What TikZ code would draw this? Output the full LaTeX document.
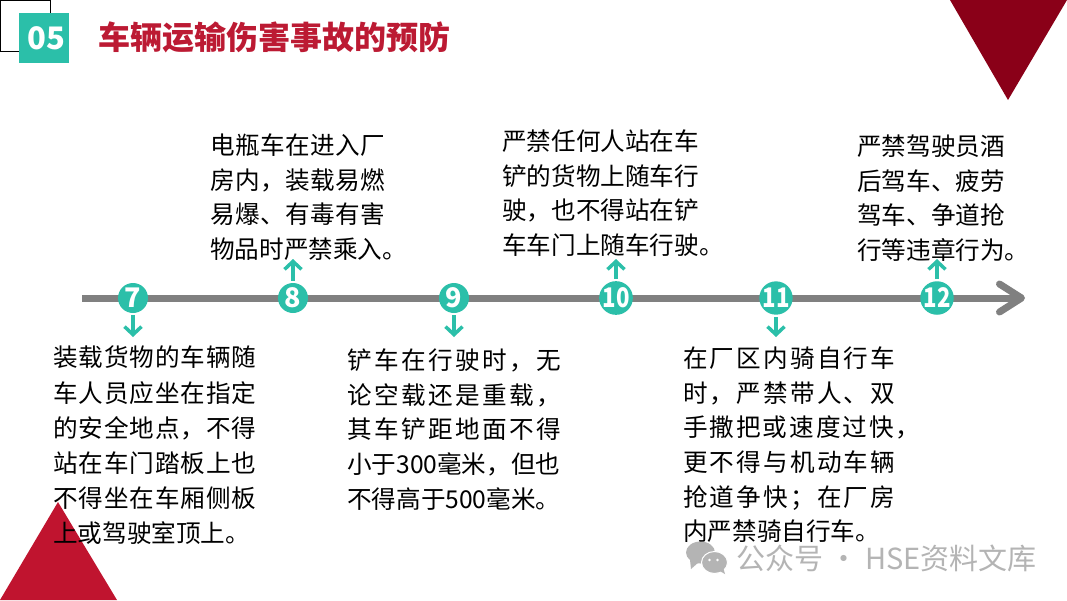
\documentclass[tikz,border=0pt]{standalone}
\usepackage{fontspec}
\setmainfont{Noto Sans CJK SC}
\newfontfamily\digitfont[FakeStretch=0.82]{Noto Sans CJK SC}
\usetikzlibrary{arrows.meta}
\definecolor{tealmark}{HTML}{2BBFA9}
\definecolor{axisgray}{HTML}{808080}
\definecolor{titlered}{HTML}{BC1A33}
\definecolor{lowred}{HTML}{C0142F}
\definecolor{darkred}{HTML}{8A0018}
\definecolor{markgray}{HTML}{B4B4B4}
\newcommand{\spread}[2]{{\addfontfeature{LetterSpace=#1}#2}}
\tikzset{
	mark dot/.style = {circle, fill = tealmark, inner sep = 0pt, minimum size = 30pt, text = white, font = \fontsize{27}{27}\selectfont\bfseries},
	mark wide/.style = {mark dot, font = \digitfont\fontsize{27}{27}\selectfont\bfseries},
	mark arrow/.style = {draw = tealmark, line width = 3.5pt, shorten < = 2pt, -{Straight Barb[length = 8pt, width = 17pt, line width = 3.5pt]}},
	note/.style = {align = left, inner sep = 0pt, anchor = north west, font = \fontsize{24.6}{34.7}\selectfont},
}
\begin{document}
\begin{tikzpicture}[x = 1pt, y = -1pt]
	\useasboundingbox (0,0) rectangle (1067,600);
	\fill[white] (0,0) rectangle (1067,600);
	\fill[darkred] (950,0) -- (1067,0) -- (1008,100) -- cycle;
	\fill[lowred] (0,600) -- (58,502) -- (117,600) -- cycle;
	\draw[black, line width = 1pt] (0.5,0.5) rectangle (50.5,51);
	\node[fill = tealmark, minimum size = 50pt, inner sep = 0pt, text = white, font = \fontsize{31}{31}\selectfont\bfseries] (secnum) at (44,38) {\hspace*{5pt}05};
	\node[anchor = west, inner sep = 0pt, text = titlered, font = \fontsize{32}{32}\selectfont\bfseries] (title) at (98,37) {车辆运输伤害事故的预防};
	% axis
	\coordinate (axisstart) at (82,298);
	\coordinate (axisend) at (1025,298);
	\draw[axisgray, line width = 7pt, -{Straight Barb[length = 22pt, width = 28pt, line width = 7pt, round]}] (axisstart) -- (axisend);
	\node[mark dot] (m7) at (133,298) {7};
	\node[mark dot] (m8) at (293,298) {8};
	\node[mark dot] (m9) at (454,298) {9};
	\node[mark wide] (m10) at (616,298) {10};
	\node[mark wide] (m11) at (776,298) {11};
	\node[mark wide] (m12) at (937,298) {12};
	\coordinate (a7) at (133,337);
	\coordinate (a8) at (293,259);
	\coordinate (a9) at (454,337);
	\coordinate (a10) at (616,259);
	\coordinate (a11) at (776,337);
	\coordinate (a12) at (937,259);
	\foreach \m/\a in {m7/a7, m8/a8, m9/a9, m10/a10, m11/a11, m12/a12}
		\draw[mark arrow] (\m) -- (\a);
	% notes
	\node[note, font = \fontsize{24.6}{35.1}\selectfont] (n7) at (53,346) {\spread{3.7}{装载货物的车辆随}\\\spread{3.7}{车人员应坐在指定}\\\spread{3.7}{的安全地点，不得}\\\spread{3.7}{站在车门踏板上也}\\\spread{3.7}{不得坐在车厢侧板}\\上或驾驶室顶上。};
	\node[note] (n8) at (210,133.5) {\spread{1.6}{电瓶车在进入厂}\\\spread{1.6}{房内，装载易燃}\\\spread{1.6}{易爆、有毒有害}\\物品时严禁乘入。};
	\node[note] (n9) at (347,348.5) {\spread{10}{铲车在行驶时，无}\\\spread{10}{论空载还是重载，}\\\spread{10}{其车铲距地面不得}\\小于300毫米，但也\\不得高于500毫米。};
	\node[note] (n10) at (502,129.5) {严禁任何人站在车\\铲的货物上随车行\\驶，也不得站在铲\\车车门上随车行驶。};
	\node[note] (n11) at (683,346.5) {\spread{8.9}{在厂区内骑自行车}\\\spread{8.9}{时，严禁带人、双}\\\spread{8}{手撒把或速度过快，}\\\spread{8.9}{更不得与机动车辆}\\\spread{8.9}{抢道争快；在厂房}\\内严禁骑自行车。};
	\node[note] (n12) at (857,134.5) {严禁驾驶员酒\\后驾车、疲劳\\驾车、争道抢\\行等违章行为。};
	% watermark
	\fill[markgray] (700.5,552.5) ellipse (14.5pt and 11pt);
	\fill[markgray] (690,560) -- (691,569) -- (699,562) -- cycle;
	\fill[markgray, draw = white, line width = 1pt] (714.5,562.5) ellipse (13pt and 11pt);
	\fill[markgray] (718,570) -- (725,574) -- (723,567) -- cycle;
	\fill[white] (709.5,560) circle (1.3pt) (717.5,560) circle (1.3pt);
	\node[anchor = west, inner sep = 0pt, text = markgray, font = \fontsize{29}{29}\selectfont] (mark) at (736,558) {公众号 · HSE资料文库};
\end{tikzpicture}
\end{document}
